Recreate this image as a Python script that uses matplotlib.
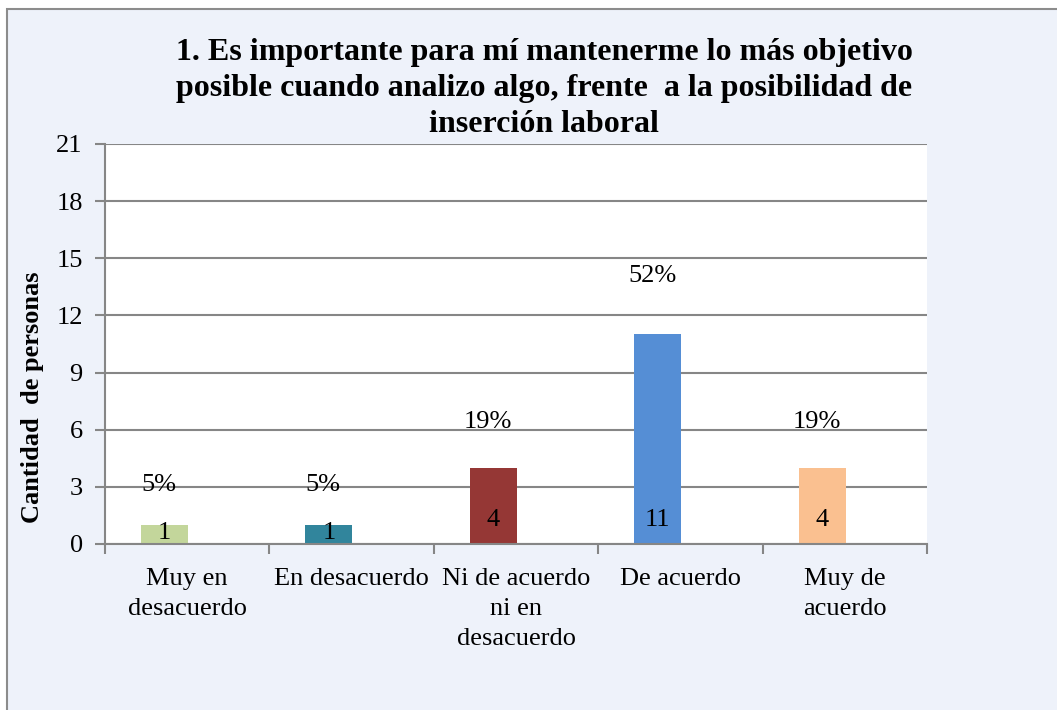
import matplotlib
matplotlib.use("Agg")
import matplotlib.pyplot as plt
from matplotlib.patches import Rectangle

categories = ["Muy en\ndesacuerdo", "En desacuerdo", "Ni de acuerdo\nni en\ndesacuerdo", "De acuerdo", "Muy de\nacuerdo"]
values = [1, 1, 4, 11, 4]
percent_labels = ["5%", "5%", "19%", "52%", "19%"]
colors = ["#C3D69B", "#31859C", "#953735", "#558ED5", "#FAC090"]
yticks = [0, 3, 6, 9, 12, 15, 18, 21]
title = ("1. Es importante para mí mantenerme lo más objetivo\n"
         "posible cuando analizo algo, frente  a la posibilidad de\n"
         "inserción laboral")
ylabel = "Cantidad  de personas"

plt.rcParams['font.family'] = ['Liberation Serif', 'DejaVu Serif']

W, H = 1057, 710
fig = plt.figure(figsize=(W / 100, H / 100), dpi=100)
fig.patch.set_facecolor("white")
bg = "#EEF2FA"
fig.patches.append(Rectangle((7 / W, -0.01), 1.0, 1.01 - 9 / H, transform=fig.transFigure,
                             facecolor=bg, edgecolor="#8C8C8C", linewidth=1.5, zorder=-5))

ax = fig.add_axes([105 / W, 1 - 544 / H, (927 - 105) / W, (544 - 144) / H])
ax.set_zorder(2)
ax.set_facecolor("white")

FS = 19
n = len(categories)
xpos = list(range(n))
bar_offset = -0.138
bar_w = 0.286
bx = [x + bar_offset for x in xpos]
ax.bar(bx, values, width=bar_w, color=colors, zorder=3)

ax.set_xlim(-0.5, n - 0.5)
ax.set_ylim(0, 21)
ax.set_yticks(yticks)
ax.set_yticklabels([str(t) for t in yticks], fontsize=FS)
ax.yaxis.grid(True, color="#868686", linewidth=1.5, zorder=0)
ax.set_axisbelow(True)

for s in ["top", "right"]:
    ax.spines[s].set_visible(False)
for s in ["left", "bottom"]:
    ax.spines[s].set_color("#868686")
    ax.spines[s].set_linewidth(1.5)
ax.spines["bottom"].set_zorder(4)

ax.set_xticks([x - 0.5 for x in xpos] + [n - 0.5])
ax.set_xticklabels([])
ax.tick_params(axis="x", length=7, width=1.5, color="#868686", direction="out")
ax.tick_params(axis="y", length=7, width=1.5, color="#868686", pad=9)
for x, c in zip(xpos, categories):
    ax.annotate(c, xy=(x, 0), xycoords="data", xytext=(0, -17), textcoords="offset points",
                ha="center", va="top", fontsize=FS, linespacing=1.48, annotation_clip=False)

for x, v, p in zip(bx, values, percent_labels):
    ax.annotate(p, xy=(x, v * 1.095 + 2.0), xytext=(-4, 0), textcoords="offset points",
                ha="center", va="center", fontsize=FS, zorder=5)
    off = 17 if v >= 3 else 8
    ax.annotate(str(v), xy=(x, 0), xytext=(0, off), textcoords="offset points",
                ha="center", va="center", fontsize=FS, zorder=5)

fig.text(544 / W, 1 - 38 / H, title, ha="center", va="top", fontsize=23,
         fontweight="bold", linespacing=1.32)
fig.text(33 / W, 1 - 397 / H, ylabel, ha="center", va="center", rotation=90,
         fontsize=19, fontweight="bold")

fig.savefig("out.png", dpi=100, facecolor=fig.get_facecolor())
